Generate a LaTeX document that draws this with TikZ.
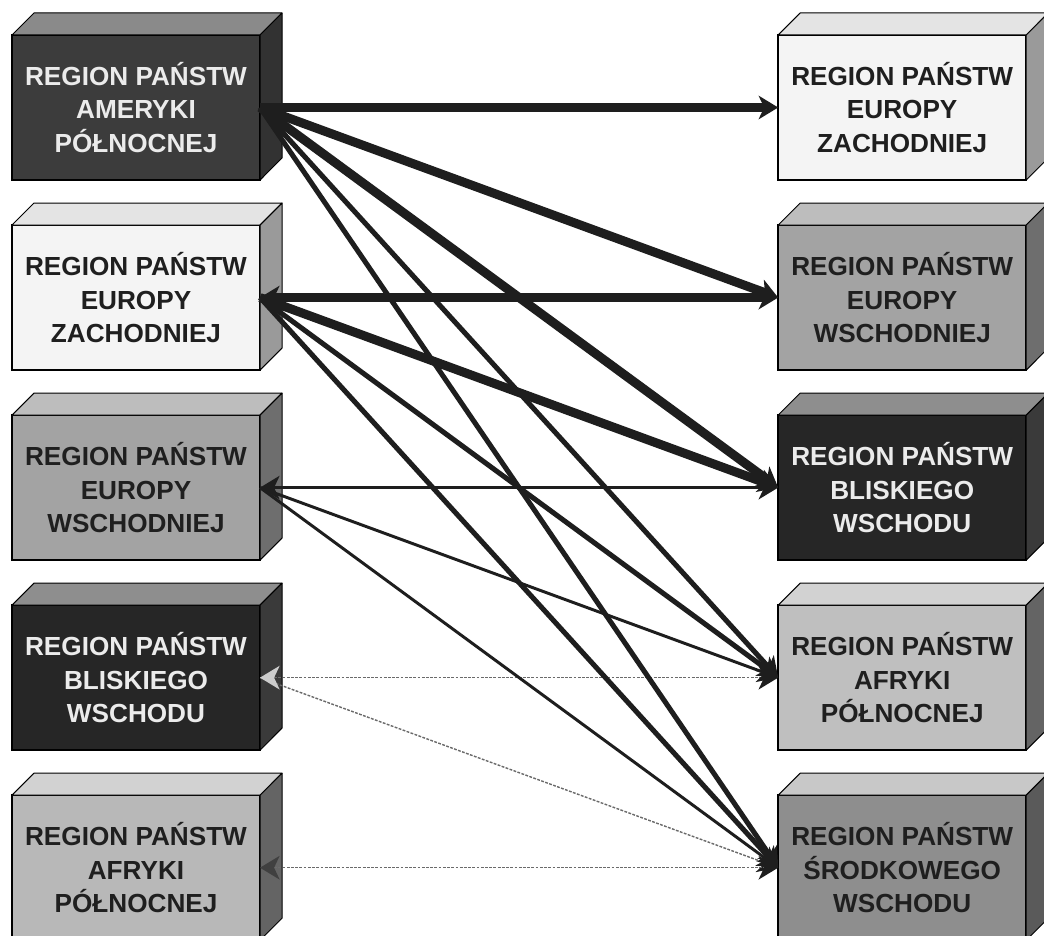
\documentclass[tikz,border=0pt]{standalone}
\usepackage{fontspec}
\setmainfont{Liberation Sans}
\usetikzlibrary{positioning, arrows.meta}
\definecolor{rgLine}{HTML}{1E1E1E}
\definecolor{rgDotted}{HTML}{6A6A6A}
% front / top / side faces
\definecolor{amFront}{HTML}{3C3C3C}
\definecolor{amTop}{HTML}{8A8A8A}
\definecolor{amSide}{HTML}{323232}
\definecolor{ezFront}{HTML}{F4F4F4}
\definecolor{ezTop}{HTML}{E4E4E4}
\definecolor{ezSide}{HTML}{9A9A9A}
\definecolor{ewFront}{HTML}{A3A3A3}
\definecolor{ewTop}{HTML}{BDBDBD}
\definecolor{ewSide}{HTML}{6E6E6E}
\definecolor{bwFront}{HTML}{262626}
\definecolor{bwTop}{HTML}{8E8E8E}
\definecolor{bwSide}{HTML}{3A3A3A}
\definecolor{afFront}{HTML}{B8B8B8}
\definecolor{afTop}{HTML}{D2D2D2}
\definecolor{afSide}{HTML}{646464}
\definecolor{swFront}{HTML}{8E8E8E}
\definecolor{swTop}{HTML}{C8C8C8}
\definecolor{swSide}{HTML}{5A5A5A}
\tikzset{
    rgBox/.style={
        rectangle,
        draw=black,
        line width=1.4pt,
        outer sep=0pt,
        inner sep=0pt,
        minimum width=6.2cm,
        minimum height=3.625cm,
        align=center,
        font=\fontsize{18.6}{24}\selectfont\bfseries
    },
    % Tone variants
    darkText/.style={rgBox, text=black!88},
    lightText/.style={rgBox, text=white!92!black},
    % Arrows
    rgTip/.style={-{Stealth[length=14pt, width=17pt, inset=4pt, line width=0pt, color=rgLine]}},
    rgBoth/.style={{Stealth[length=14pt, width=17pt, inset=4pt, line width=0pt]}-{Stealth[length=14pt, width=17pt, inset=4pt, line width=0pt]}},
    rgPaleBoth/.style={{Stealth[length=14pt, width=17pt, inset=4pt, line width=0pt, color=gray!40]}-{Stealth[length=14pt, width=17pt, inset=4pt, line width=0pt, color=rgLine]}},
    rgGreyBoth/.style={{Stealth[length=14pt, width=17pt, inset=4pt, line width=0pt, color=black!75]}-{Stealth[length=14pt, width=17pt, inset=4pt, line width=0pt, color=rgLine]}},
    flowHeavy/.style={draw=rgLine, line width=6.4pt},
    flowMid/.style={draw=rgLine, line width=3.6pt},
    flowThin/.style={draw=rgLine, line width=2.1pt},
    flowDotted/.style={draw=rgDotted, line width=1pt, dash pattern=on 2pt off 1pt}
}

\begin{document}
\begin{tikzpicture}[x=0.025cm, y=-0.025cm]
\useasboundingbox (0,0) rectangle (1044,935);

\node[lightText, fill=amFront] (lAm) at (136,107.5) {REGION PAŃSTW\\AMERYKI\\PÓŁNOCNEJ};
\node[darkText, fill=ezFront, below=1.125cm of lAm] (lEuZ) {REGION PAŃSTW\\EUROPY\\ZACHODNIEJ};
\node[darkText, fill=ewFront, below=1.125cm of lEuZ] (lEuW) {REGION PAŃSTW\\EUROPY\\WSCHODNIEJ};
\node[lightText, fill=bwFront, below=1.125cm of lEuW] (lBlW) {REGION PAŃSTW\\BLISKIEGO\\WSCHODU};
\node[darkText, fill=afFront, below=1.125cm of lBlW] (lAfr) {REGION PAŃSTW\\AFRYKI\\PÓŁNOCNEJ};

\node[darkText, fill=ezFront, right=12.95cm of lAm] (rEuZ) {REGION PAŃSTW\\EUROPY\\ZACHODNIEJ};
\node[darkText, fill=ewFront, below=1.125cm of rEuZ] (rEuW) {REGION PAŃSTW\\EUROPY\\WSCHODNIEJ};
\node[lightText, fill=bwFront, below=1.125cm of rEuW] (rBlW) {REGION PAŃSTW\\BLISKIEGO\\WSCHODU};
\node[darkText, fill=afFront!90!white, below=1.125cm of rBlW] (rAfr) {REGION PAŃSTW\\AFRYKI\\PÓŁNOCNEJ};
\node[darkText, fill=swFront, below=1.125cm of rAfr] (rSrW) {REGION PAŃSTW\\ŚRODKOWEGO\\WSCHODU};

% top and side faces of the blocks
\foreach \n/\t/\s in {lAm/amTop/amSide, lEuZ/ezTop/ezSide, lEuW/ewTop/ewSide,
    lBlW/bwTop/bwSide, lAfr/afTop/afSide, rEuZ/ezTop/ezSide, rEuW/ewTop/ewSide,
    rBlW/bwTop/bwSide, rAfr/afTop/afSide, rSrW/swTop/swSide} {
  \filldraw[fill=\t, draw=black, line width=0.7pt, line join=round]
    (\n.north west) -- ++(22,-22) -- ++(248,0) -- (\n.north east) -- cycle;
  \filldraw[fill=\s, draw=black, line width=0.7pt, line join=round]
    (\n.north east) -- ++(22,-22) -- ++(0,145) -- (\n.south east) -- cycle;
}

\draw[flowDotted, rgTip] (lBlW.east) -- (rSrW.west);
\draw[flowDotted, rgPaleBoth] (lBlW.east) -- (rAfr.west);
\draw[flowDotted, rgGreyBoth] (lAfr.east) -- (rSrW.west);

\draw[flowThin, rgTip] (lEuW.east) -- (rAfr.west);
\draw[flowThin, rgTip] (lEuW.east) -- (rSrW.west);
\draw[flowThin, rgBoth] (lEuW.east) -- (rBlW.west);

\draw[flowMid, rgTip] (lAm.east) -- (rAfr.west);
\draw[flowMid, rgTip] (lAm.east) -- (rSrW.west);
\draw[flowMid, rgTip] (lEuZ.east) -- (rAfr.west);
\draw[flowMid, rgTip] (lEuZ.east) -- (rSrW.west);

\draw[flowHeavy, rgTip] (lAm.east) -- (rEuZ.west);
\draw[flowHeavy, rgTip] (lAm.east) -- (rEuW.west);
\draw[flowHeavy, rgTip] (lAm.east) -- (rBlW.west);
\draw[flowHeavy, rgBoth] (lEuZ.east) -- (rEuW.west);
\draw[flowHeavy, rgTip] (lEuZ.east) -- (rBlW.west);
\end{tikzpicture}
\end{document}
